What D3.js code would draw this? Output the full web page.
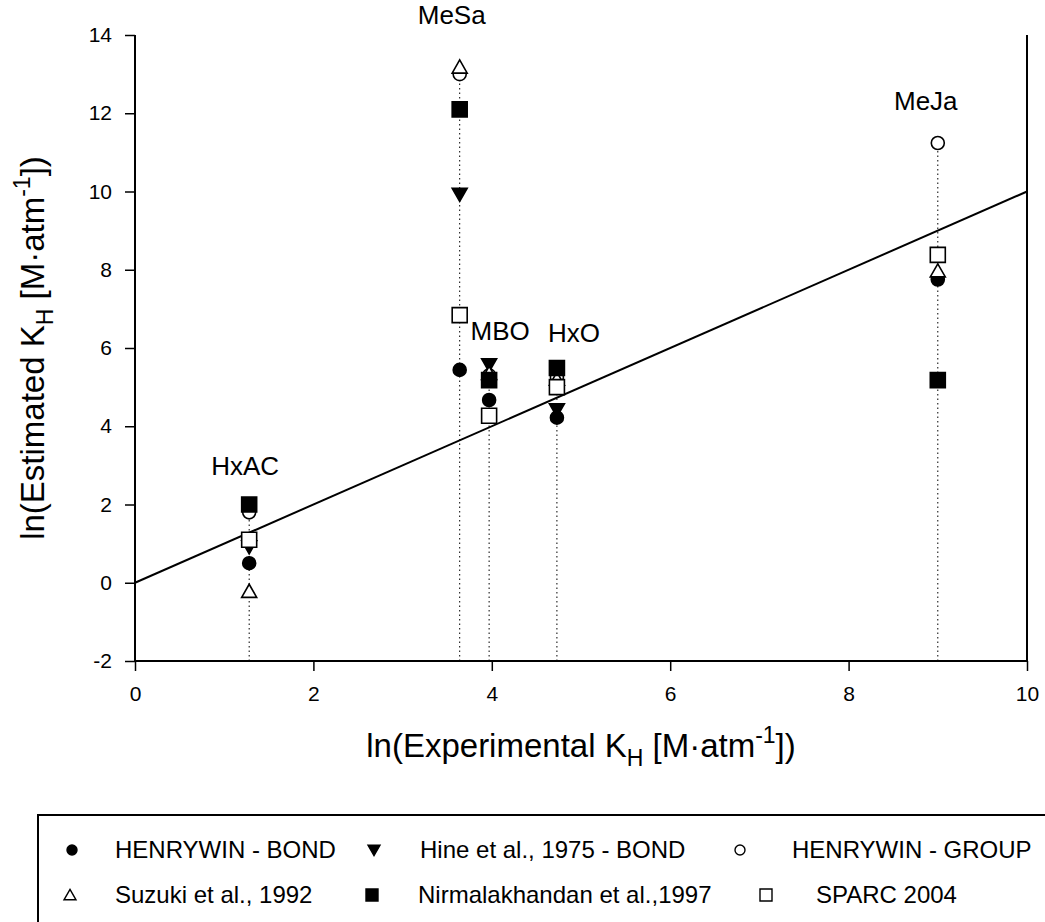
<!DOCTYPE html>
<html>
<head>
<meta charset="utf-8">
<script src="https://cdn.jsdelivr.net/npm/d3@7"></script>
<style>
  body { margin: 0; background: #fff; }
  svg { font-family: "Liberation Sans", Arial, sans-serif; }
</style>
</head>
<body>
<div id="chart"></div>
<script>
const width = 1045;
const height = 922;

// compounds and their experimental ln(KH)
const compounds = ["HxAC", "MeSa", "MBO", "HxO", "MeJa"];
const expKH = [1.28, 3.64, 3.97, 4.73, 9.0];

// estimated ln(KH) per method (null = not shown)
const henrywinBond = [0.5, 5.44, 4.67, 4.22, 7.75];
const hineBond = [0.92, 9.93, 5.57, 4.42, null];
const henrywinGroup = [1.8, 13.0, 5.3, 5.25, 11.24];
const suzuki = [-0.22, 13.18, 5.35, 5.2, 7.97];
const nirmalakhandan = [2.0, 12.1, 5.18, 5.49, 5.18];
const sparc = [1.1, 6.84, 4.27, 5.0, 8.38];

const xTicks = [0, 2, 4, 6, 8, 10];
const yTicks = [-2, 0, 2, 4, 6, 8, 10, 12, 14];

const series = [
  { name: "HENRYWIN - BOND", values: henrywinBond, shape: "circle", fill: true },
  { name: "Hine et al., 1975 - BOND", values: hineBond, shape: "triDown", fill: true },
  { name: "HENRYWIN - GROUP", values: henrywinGroup, shape: "circle", fill: false },
  { name: "Suzuki et al., 1992", values: suzuki, shape: "triUp", fill: false },
  { name: "Nirmalakhandan et al.,1997", values: nirmalakhandan, shape: "square", fill: true },
  { name: "SPARC 2004", values: sparc, shape: "square", fill: false }
];

const margin = { left: 135, right: 18, top: 35, bottom: 261 };

const x = d3.scaleLinear().domain([0, 10]).range([margin.left, width - margin.right]);
const y = d3.scaleLinear().domain([-2, 14]).range([height - margin.bottom, margin.top]);

const svg = d3.select("#chart").append("svg")
  .attr("width", width)
  .attr("height", height);

// symbol path centred at 0,0
function symbolPath(shape, s) {
  const h = s / 2;
  if (shape === "circle") {
    return d3.arc()({ innerRadius: 0, outerRadius: h, startAngle: 0, endAngle: 2 * Math.PI });
  }
  if (shape === "square") return `M${-h},${-h}H${h}V${h}H${-h}Z`;
  if (shape === "triDown") return `M${-h},${-h * 0.8}L${h},${-h * 0.8}L0,${h * 0.95}Z`;
  if (shape === "triUp") return `M0,${-h * 0.95}L${h},${h * 0.8}L${-h},${h * 0.8}Z`;
}

// dotted drop lines
const tops = compounds.map((c, i) => d3.max(series, s => s.values[i]));
svg.append("g").selectAll("line")
  .data(compounds)
  .join("line")
  .attr("x1", (d, i) => x(expKH[i]))
  .attr("x2", (d, i) => x(expKH[i]))
  .attr("y1", y(-2))
  .attr("y2", (d, i) => y(tops[i]))
  .attr("stroke", "#000")
  .attr("stroke-width", 1)
  .attr("stroke-dasharray", "1.5,3");

// 1:1 line
svg.append("line")
  .attr("x1", x(0)).attr("y1", y(0))
  .attr("x2", x(10)).attr("y2", y(10))
  .attr("stroke", "#000")
  .attr("stroke-width", 2);

// axes
const xAxis = svg.append("g")
  .attr("transform", `translate(0,${y(-2)})`)
  .call(d3.axisBottom(x).tickValues(xTicks).tickSize(10).tickPadding(15).tickFormat(d => d));
const yAxis = svg.append("g")
  .attr("transform", `translate(${x(0)},0)`)
  .call(d3.axisLeft(y).tickValues(yTicks).tickSize(10).tickPadding(13).tickFormat(d => d));
[xAxis, yAxis].forEach(a => {
  a.attr("font-size", null).attr("font-family", null);
  a.select(".domain").remove();
  a.selectAll(".tick line").attr("stroke-width", 1.5);
  a.selectAll("text").style("font-size", "21px").attr("fill", "#000");
});

svg.append("path")
  .attr("d", `M${x(0)},${y(14)}V${y(-2)}H${x(10)}V${y(14)}`)
  .attr("fill", "none")
  .attr("stroke", "#000")
  .attr("stroke-width", 2);

// markers
series.forEach(s => {
  svg.append("g").selectAll("path")
    .data(compounds.map((c, i) => ({ c, xv: expKH[i], yv: s.values[i] })).filter(d => d.yv != null))
    .join("path")
    .attr("transform", d => `translate(${x(d.xv)},${y(d.yv)})`)
    .attr("d", symbolPath(s.shape, s.shape === "circle" ? 13 : 15))
    .attr("fill", s.fill ? "#000" : "#fff")
    .attr("stroke", "#000")
    .attr("stroke-width", 1.6);
});

// compound labels
const labelDx = [-4, -8, 11, 17, -12];
const labelDy = [-30, -43, -25, -26, -33];
svg.append("g").selectAll("text")
  .data(compounds)
  .join("text")
  .attr("x", (d, i) => x(expKH[i]) + labelDx[i])
  .attr("y", (d, i) => y(tops[i]) + labelDy[i])
  .attr("text-anchor", "middle")
  .style("font-size", "26px")
  .text(d => d);

// axis titles
const xt = svg.append("text")
  .attr("x", (x(0) + x(10)) / 2)
  .attr("y", 757)
  .attr("text-anchor", "middle")
  .style("font-size", "33px");
xt.append("tspan").text("ln(Experimental K");
xt.append("tspan").attr("dy", 9).style("font-size", "23px").text("H");
xt.append("tspan").attr("dy", -9).text(" [M·atm");
xt.append("tspan").attr("dy", -14).style("font-size", "23px").text("-1");
xt.append("tspan").attr("dy", 14).text("])");

const yt = svg.append("text")
  .attr("transform", `translate(44,${(y(-2) + y(14)) / 2}) rotate(-90)`)
  .attr("text-anchor", "middle")
  .style("font-size", "33px");
yt.append("tspan").text("ln(Estimated K");
yt.append("tspan").attr("dy", 9).style("font-size", "23px").text("H");
yt.append("tspan").attr("dy", -9).text(" [M·atm");
yt.append("tspan").attr("dy", -14).style("font-size", "23px").text("-1");
yt.append("tspan").attr("dy", 14).text("])");

// legend
svg.append("rect")
  .attr("x", 38).attr("y", 815)
  .attr("width", 1100).attr("height", 200)
  .attr("fill", "none")
  .attr("stroke", "#000")
  .attr("stroke-width", 2);

const legRowY = [850, 895];
const legSymX = [[72, 374, 740], [70, 372, 766]];
const legTextX = [[115, 420, 792], [115, 418, 816]];
const leg = svg.append("g").selectAll("g")
  .data(series)
  .join("g")
  .attr("transform", (d, i) => `translate(0,${legRowY[Math.floor(i / 3)]})`);
leg.append("path")
  .attr("transform", (d, i) => `translate(${legSymX[Math.floor(i / 3)][i % 3]},0)`)
  .attr("d", d => symbolPath(d.shape, d.shape === "circle" ? 10 : 12))
  .attr("fill", d => d.fill ? "#000" : "#fff")
  .attr("stroke", "#000")
  .attr("stroke-width", 1.4);
leg.append("text")
  .attr("x", (d, i) => legTextX[Math.floor(i / 3)][i % 3])
  .attr("dy", "0.35em")
  .style("font-size", "24px")
  .text(d => d.name);
</script>
</body>
</html>
